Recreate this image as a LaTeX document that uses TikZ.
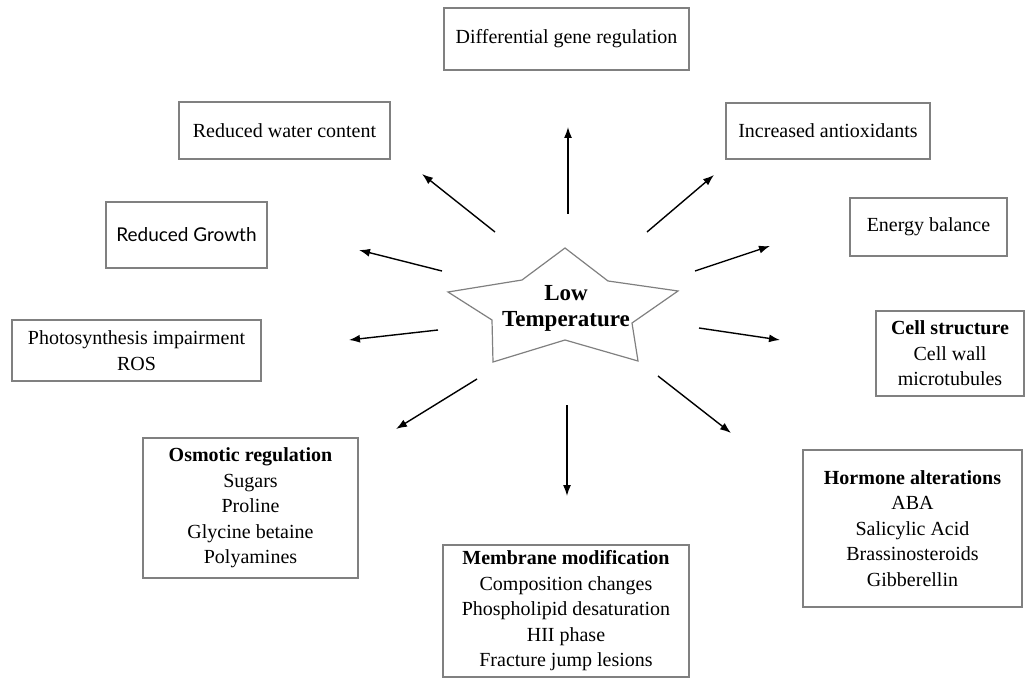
\documentclass[tikz,border=0pt]{standalone}
\usepackage{fontspec}
\setmainfont{Liberation Serif}
\newfontfamily\gillfont{Lato}
\usetikzlibrary{arrows.meta}
\begin{document}
\begin{tikzpicture}[x=1pt,y=-1pt,
  box/.style={draw=black!50, line width=1.2pt, fill=white, align=center, inner sep=0pt,
    font=\fontsize{20}{25.5}\selectfont},
  arr/.style={line width=1.4pt, -{Latex[length=11pt,width=8pt]}},
]
\useasboundingbox (0,0) rectangle (1026,679);
% boxes
\node[box, minimum width=245pt, minimum height=62pt] (dgr) at (566.5,39) {Differential gene regulation};
\node[box, minimum width=211pt, minimum height=57pt] (rwc) at (284.5,130.5) {Reduced water content};
\node[box, minimum width=204pt, minimum height=56pt] (ia) at (828,131) {Increased antioxidants};
\node[box, minimum width=161pt, minimum height=66pt, font=\gillfont\fontsize{19}{24}\selectfont] (rg) at (186.5,235) {Reduced Growth};
\node[box, minimum width=249pt, minimum height=61pt] (ps) at (136.5,350.5) {Photosynthesis impairment\\ROS};
\node[box, minimum width=157pt, minimum height=58pt] (eb) at (928.5,227) {Energy balance};
\node[box, minimum width=148pt, minimum height=85pt] (cs) at (950,353.5) {\textbf{Cell structure}\\Cell wall\\microtubules};
\node[box, minimum width=215pt, minimum height=140pt] (os) at (250.5,508) {\textbf{Osmotic regulation}\\Sugars\\Proline\\Glycine betaine\\Polyamines};
\node[box, minimum width=246pt, minimum height=132pt] (mm) at (566,611) {\textbf{Membrane modification}\\Composition changes\\Phospholipid desaturation\\HII phase\\Fracture jump lesions};
\node[box, minimum width=219pt, minimum height=157pt] (ha) at (912.5,528.5) {\textbf{Hormone alterations}\\ABA\\Salicylic Acid\\Brassinosteroids\\Gibberellin};
% star
\draw[draw=black!50, line width=1.2pt, fill=white]
  (565,248) -- (608,281) -- (678,291) -- (632,323) -- (638,361) -- (565,340)
  -- (493,362) -- (492,320) -- (448,292) -- (522,280) -- cycle;
\node[align=center, inner sep=0pt, font=\bfseries\fontsize{23}{26}\selectfont] (lt) at (566,308) {Low\\Temperature};
% arrow end points
\coordinate (a1) at (568,214); \coordinate (b1) at (568,127);
\coordinate (a2) at (495,232); \coordinate (b2) at (422,174);
\coordinate (a3) at (442,271); \coordinate (b3) at (359,250);
\coordinate (a4) at (438,330); \coordinate (b4) at (349,340);
\coordinate (a5) at (477,379); \coordinate (b5) at (396,429);
\coordinate (a6) at (567,405); \coordinate (b6) at (567,496);
\coordinate (a7) at (658,376); \coordinate (b7) at (731,433);
\coordinate (a8) at (699,328); \coordinate (b8) at (780,340);
\coordinate (a9) at (695,271); \coordinate (b9) at (770,246);
\coordinate (a10) at (647,232); \coordinate (b10) at (714,175);
\foreach \i in {1,...,10} \draw[arr] (a\i) -- (b\i);
\end{tikzpicture}
\end{document}
